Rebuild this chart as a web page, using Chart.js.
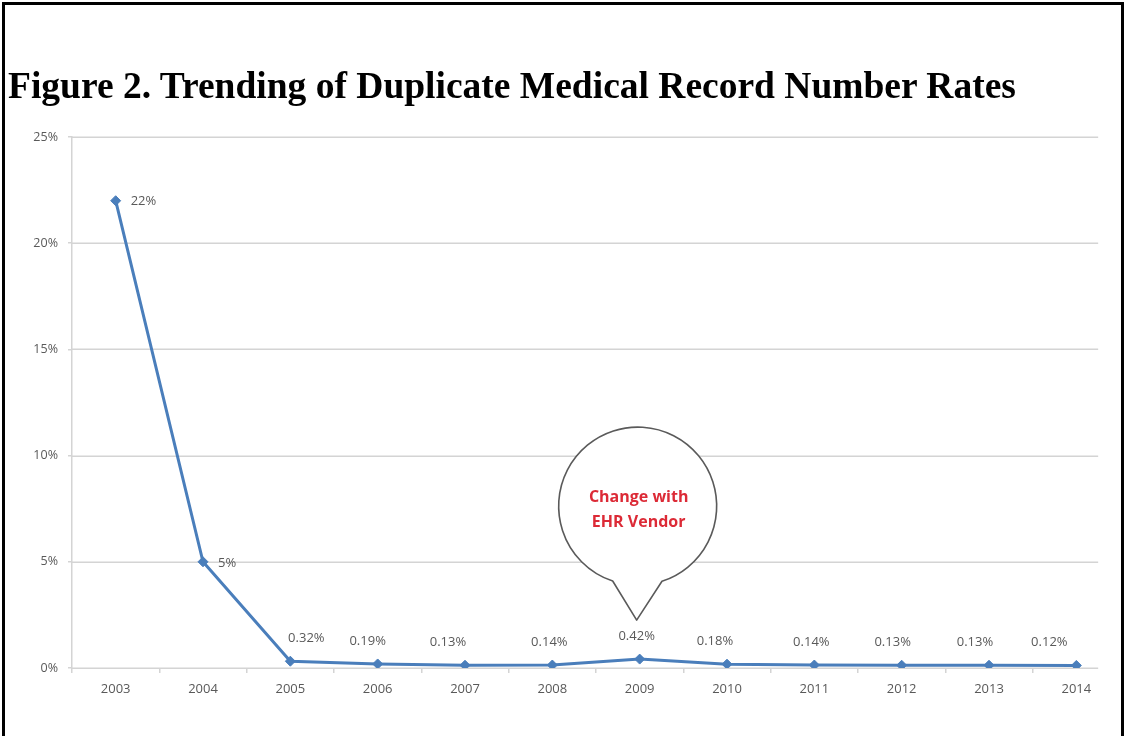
<!DOCTYPE html>
<html>
<head>
<meta charset="utf-8">
<script src="https://cdn.jsdelivr.net/npm/chart.js@4"></script>
<style>
  html, body { margin: 0; padding: 0; background: #fff; }
  #page { position: relative; width: 1126px; height: 736px; overflow: hidden; background: #fff; }
  #frame { position: absolute; left: 2px; top: 2px; width: 1116px; height: 780px;
           border: 3px solid #000; border-bottom: none; pointer-events: none; }
  #title { position: absolute; left: 8px; top: 67px; margin: 0; white-space: nowrap;
           font: bold 37.5px/37.5px "Liberation Serif", "Times New Roman", serif; color: #000; }
  #chart { position: absolute; left: 0; top: 0; }
</style>
</head>
<body>
<div id="page">
  <canvas id="chart" width="1126" height="736"></canvas>
  <div id="frame"></div>
  <h1 id="title">Figure 2. Trending of Duplicate Medical Record Number Rates</h1>
</div>
<script>
// Duplicate medical record number rate per year, in percent
const years = ['2003', '2004', '2005', '2006', '2007', '2008', '2009', '2010', '2011', '2012', '2013', '2014'];
const rates = [22, 5, 0.32, 0.19, 0.13, 0.14, 0.42, 0.18, 0.14, 0.13, 0.13, 0.12];
const yTicks = [0, 5, 10, 15, 20, 25];

// Horizontal nudges (px) for the small value labels sitting above the points
const labelNudge = [0, 0, 16, -10, -17, -3, -3, -12, -3, -9, -14, -27];

// Callout attached to the 2009 point
const calloutIndex = 6;
const calloutLines = ['Change with', 'EHR Vendor'];

const FONT_FAMILY = '"Open Sans", "Liberation Sans", sans-serif';
const TEXT_GREY = '#595959';
const GRID_GREY = '#d4d4d4';
const LINE_BLUE = '#4a7ebb';

function fmtPct(v) {
  return v >= 1 ? v + '%' : v.toFixed(2) + '%';
}

// Horizontal gridlines, stopping a little past the last category
const gridPlugin = {
  id: 'hgrid',
  beforeDatasetsDraw(chart) {
    const { ctx, chartArea, scales: { x, y } } = chart;
    const band = x.width / years.length;
    const end = x.getPixelForValue(years.length - 1) + band / 4;
    ctx.save();
    ctx.strokeStyle = GRID_GREY;
    ctx.lineWidth = 1.5;
    yTicks.forEach(v => {
      const py = Math.round(y.getPixelForValue(v)) + 0.25;
      ctx.beginPath();
      ctx.moveTo(chartArea.left, py);
      ctx.lineTo(end, py);
      ctx.stroke();
    });
    ctx.restore();
  }
};

// Value labels next to / above each point
const valueLabelPlugin = {
  id: 'valueLabels',
  afterDatasetsDraw(chart) {
    const { ctx } = chart;
    const meta = chart.getDatasetMeta(0);
    ctx.save();
    ctx.font = '13px ' + FONT_FAMILY;
    ctx.fillStyle = TEXT_GREY;
    ctx.textBaseline = 'middle';
    meta.data.forEach((pt, i) => {
      const v = rates[i];
      if (v >= 1) {
        ctx.textAlign = 'left';
        ctx.fillText(fmtPct(v), pt.x + 15, pt.y + 1);
      } else {
        ctx.textAlign = 'center';
        ctx.fillText(fmtPct(v), pt.x + labelNudge[i], pt.y - 23);
      }
    });
    ctx.restore();
  }
};

// Round speech-bubble callout pointing at one point
const calloutPlugin = {
  id: 'callout',
  afterDatasetsDraw(chart) {
    const { ctx } = chart;
    const pt = chart.getDatasetMeta(0).data[calloutIndex];
    const tipX = pt.x - 3, tipY = pt.y - 39;
    const cx = tipX + 1, cy = tipY - 114, r = 79;
    const aRight = Math.atan2(68, 22);
    const aLeft = Math.atan2(75, -25);
    ctx.save();
    ctx.beginPath();
    ctx.moveTo(tipX, tipY);
    ctx.lineTo(cx + r * Math.cos(aRight), cy + r * Math.sin(aRight));
    ctx.arc(cx, cy, r, aRight, aLeft, true);
    ctx.lineTo(tipX, tipY);
    ctx.closePath();
    ctx.fillStyle = '#ffffff';
    ctx.fill();
    ctx.strokeStyle = '#5a5a5a';
    ctx.lineWidth = 1.6;
    ctx.lineJoin = 'round';
    ctx.stroke();

    ctx.fillStyle = '#dc2a36';
    ctx.font = 'bold 16px ' + FONT_FAMILY;
    ctx.textAlign = 'center';
    ctx.textBaseline = 'middle';
    ctx.fillText(calloutLines[0], cx + 1, cy - 9);
    ctx.fillText(calloutLines[1], cx + 1, cy + 16);
    ctx.restore();
  }
};

new Chart(document.getElementById('chart'), {
  type: 'line',
  data: {
    labels: years,
    datasets: [{
      data: rates,
      borderColor: LINE_BLUE,
      backgroundColor: LINE_BLUE,
      borderWidth: 3,
      tension: 0,
      pointStyle: 'rectRot',
      pointRadius: 5,
      pointBorderWidth: 1,
      pointBorderColor: LINE_BLUE,
      pointBackgroundColor: LINE_BLUE,
      fill: false
    }]
  },
  options: {
    responsive: false,
    animation: false,
    devicePixelRatio: 1,
    layout: { padding: { top: 137, right: 6, left: 0, bottom: 0 } },
    plugins: { legend: { display: false }, tooltip: { enabled: false } },
    scales: {
      x: {
        type: 'category',
        offset: true,
        grid: {
          offset: true,
          drawOnChartArea: false,
          tickLength: 5,
          lineWidth: 1.5,
          // the closing tick past the last category is left out
          color: c => (c.type === 'tick' ? GRID_GREY : 'rgba(0,0,0,0)')
        },
        border: { display: false },
        ticks: { color: TEXT_GREY, font: { family: FONT_FAMILY, size: 13 }, padding: 8, maxRotation: 0, autoSkip: false },
        afterFit: s => { s.height = 68; }
      },
      y: {
        min: 0,
        max: 25,
        afterBuildTicks: s => { s.ticks = yTicks.map(v => ({ value: v })); },
        grid: { drawOnChartArea: false, tickLength: 4, lineWidth: 1.5, color: GRID_GREY },
        border: { display: true, color: GRID_GREY, width: 1.5 },
        ticks: { color: TEXT_GREY, font: { family: FONT_FAMILY, size: 12.5 }, padding: 10, callback: v => v + '%' },
        afterFit: s => { s.width = 72; }
      }
    }
  },
  plugins: [gridPlugin, valueLabelPlugin, calloutPlugin]
});
</script>
</body>
</html>
